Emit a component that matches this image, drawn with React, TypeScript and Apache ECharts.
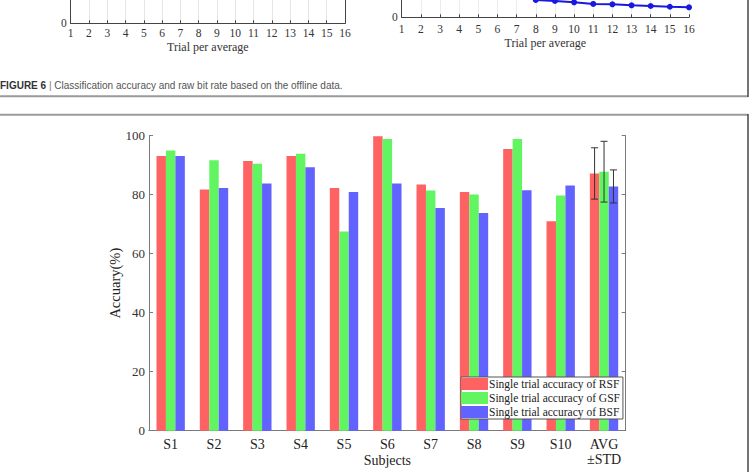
import React, { useEffect, useRef } from "react";
import * as echarts from "echarts";

// ---- Main figure data ----
const subjects = ["S1", "S2", "S3", "S4", "S5", "S6", "S7", "S8", "S9", "S10", "AVG\n±STD"];
const rsf = [93.1, 81.8, 91.4, 93.1, 82.3, 99.8, 83.5, 80.9, 95.5, 71.0, 87.2];
const gsf = [95.0, 91.7, 90.5, 93.9, 67.5, 98.9, 81.4, 80.1, 98.9, 79.7, 87.8];
const bsf = [93.1, 82.3, 83.8, 89.3, 80.9, 83.8, 75.5, 73.8, 81.5, 83.1, 82.8];
const avgStd = [8.7, 10.3, 5.6];
const seriesNames = [
  "Single trial accuracy of RSF",
  "Single trial accuracy of GSF",
  "Single trial accuracy of BSF",
];
const seriesColors = ["#ff6262", "#62f562", "#6262ff"];

// ---- Partial figure above (cropped) ----
const trialTicks = [1, 16];
const rateTrials = [8, 9, 10, 11, 12, 13, 14, 15, 16];
const rateBlue = [14.4, 13.6, 12.5, 11.1, 10.8, 10.0, 9.4, 8.8, 8.3];
const rateGreenTrials = [7, 8];
const rateGreen = [22, 14.4];

const SERIF = "'Liberation Serif', 'Times New Roman', serif";
const AXIS_GRAY = "#7a7a7a";

export default function App() {
  const ref = useRef<HTMLDivElement>(null);

  useEffect(() => {
    if (!ref.current) return;
    const chart = echarts.init(ref.current, undefined, { renderer: "svg" });
    const last = subjects.length - 1;
    const means = [rsf[last], gsf[last], bsf[last]];
    const errData = means.map((m, k) => [last, m, avgStd[k], k]);

    const option: any = {
      animation: false,
      backgroundColor: "#ffffff",
      grid: [
        { left: 149, right: 123.3, top: 135.7, bottom: 41.3, containLabel: false, outerBoundsMode: "none" },
        { left: 70.7, top: 0, width: 274.3, height: 23.3, containLabel: false, outerBoundsMode: "none" },
        { left: 401.7, top: 0, width: 287.3, height: 17.3, containLabel: false, outerBoundsMode: "none" },
      ],
      legend: {
        data: seriesNames,
        orient: "vertical",
        left: 461,
        top: 377,
        itemWidth: 27,
        itemHeight: 12,
        itemGap: 2,
        padding: [1, 3, 1, 0],
        icon: "rect",
        backgroundColor: "#ffffff",
        borderColor: "#555555",
        borderWidth: 1,
        borderRadius: 0,
        textStyle: { fontFamily: SERIF, fontSize: 11.5, color: "#222", lineHeight: 12, padding: [0, 0, 0, -4] },
        z: 10,
      },
      xAxis: [
        {
          gridIndex: 0,
          type: "category",
          data: subjects,
          position: "bottom",
          axisLine: { lineStyle: { color: AXIS_GRAY, width: 1 } },
          axisTick: { alignWithLabel: true, inside: true, length: 4, lineStyle: { color: AXIS_GRAY } },
          axisLabel: { interval: 0, fontFamily: SERIF, fontSize: 14, color: "#222", margin: 6, lineHeight: 15.5 },
          name: "Subjects",
          nameLocation: "middle",
          nameGap: 23,
          nameMoveOverlap: false,
          nameTextStyle: { fontFamily: SERIF, fontSize: 14, color: "#222" },
        },
        {
          gridIndex: 0,
          type: "category",
          data: subjects,
          position: "top",
          axisLine: { lineStyle: { color: AXIS_GRAY, width: 1 } },
          axisTick: { interval: 0, alignWithLabel: true, inside: true, length: 4, lineStyle: { color: AXIS_GRAY } },
          axisLabel: { show: false, interval: 0 },
        },
        {
          gridIndex: 1,
          type: "value",
          min: trialTicks[0],
          max: trialTicks[1],
          interval: 1,
          axisLine: { lineStyle: { color: "#444", width: 1 } },
          axisTick: { inside: true, length: 3, lineStyle: { color: "#444" } },
          axisLabel: { fontFamily: SERIF, fontSize: 11.5, color: "#333", margin: 4 },
          splitLine: { show: true, lineStyle: { color: "#e6e6e6" } },
          name: "Trial per average",
          nameLocation: "middle",
          nameGap: 18,
          nameMoveOverlap: false,
          nameTextStyle: { fontFamily: SERIF, fontSize: 12, color: "#333" },
        },
        {
          gridIndex: 2,
          type: "value",
          min: trialTicks[0],
          max: trialTicks[1],
          interval: 1,
          axisLine: { lineStyle: { color: "#444", width: 1 } },
          axisTick: { inside: true, length: 3, lineStyle: { color: "#444" } },
          axisLabel: { fontFamily: SERIF, fontSize: 11.5, color: "#333", margin: 6 },
          splitLine: { show: true, lineStyle: { color: "#ececec" } },
          name: "Trial per average",
          nameLocation: "middle",
          nameGap: 20,
          nameMoveOverlap: false,
          nameTextStyle: { fontFamily: SERIF, fontSize: 12, color: "#333" },
        },
      ],
      yAxis: [
        {
          gridIndex: 0,
          type: "value",
          min: 0,
          max: 100,
          interval: 20,
          axisLine: { show: true, lineStyle: { color: AXIS_GRAY, width: 1 } },
          axisTick: { show: true, inside: true, length: 4, lineStyle: { color: AXIS_GRAY } },
          axisLabel: { fontFamily: SERIF, fontSize: 13, color: "#333", margin: 4 },
          splitLine: { show: false },
          name: "Accuary(%)",
          nameLocation: "middle",
          nameGap: 27,
          nameRotate: 90,
          nameMoveOverlap: false,
          nameTextStyle: { fontFamily: SERIF, fontSize: 14.5, color: "#222" },
        },
        {
          gridIndex: 0,
          type: "value",
          position: "right",
          min: 0,
          max: 100,
          interval: 20,
          axisLine: { show: true, lineStyle: { color: AXIS_GRAY, width: 1 } },
          axisTick: { show: true, inside: true, length: 4, lineStyle: { color: AXIS_GRAY } },
          axisLabel: { show: false },
          splitLine: { show: false },
        },
        {
          gridIndex: 1,
          type: "value",
          min: 0,
          max: 10,
          interval: 10,
          axisLine: { show: true, lineStyle: { color: "#444", width: 1 } },
          axisTick: { show: false },
          axisLabel: { fontFamily: SERIF, fontSize: 11.5, color: "#333", margin: 4, showMaxLabel: false },
          splitLine: { show: false },
        },
        {
          gridIndex: 1,
          type: "value",
          position: "right",
          min: 0,
          max: 10,
          interval: 10,
          axisLine: { show: true, lineStyle: { color: "#444", width: 1 } },
          axisTick: { show: false },
          axisLabel: { show: false },
          splitLine: { show: false },
        },
        {
          gridIndex: 2,
          type: "value",
          min: 0,
          max: 14.4,
          interval: 20,
          axisLine: { show: true, lineStyle: { color: "#444", width: 1 } },
          axisTick: { show: false },
          axisLabel: { fontFamily: SERIF, fontSize: 11.5, color: "#333", margin: 4, showMaxLabel: false },
          splitLine: { show: false },
        },
      ],
      series: [
        ...seriesNames.map((name, i) => ({
          name,
          type: "bar",
          xAxisIndex: 0,
          yAxisIndex: 0,
          data: [rsf, gsf, bsf][i],
          itemStyle: { color: seriesColors[i] },
          barGap: "0%",
          barCategoryGap: "34.6%",
        })),
        {
          type: "custom",
          xAxisIndex: 0,
          yAxisIndex: 0,
          z: 5,
          encode: { x: 0, y: 1 },
          data: errData,
          renderItem: (params: any, api: any) => {
            const ci = api.value(0);
            const mean = api.value(1);
            const sd = api.value(2);
            const k = api.value(3);
            const band = api.size([1, 0])[0];
            const bw = (band * (1 - 0.346)) / 3;
            const c = api.coord([ci, mean]);
            const x = c[0] + (k - 1) * bw;
            const top = api.coord([ci, mean + sd])[1];
            const bot = api.coord([ci, mean - sd])[1];
            const cap = 3.5;
            const style = { stroke: "#333", lineWidth: 1 };
            return {
              type: "group",
              children: [
                { type: "line", shape: { x1: x, y1: top, x2: x, y2: bot }, style },
                { type: "line", shape: { x1: x - cap, y1: top, x2: x + cap, y2: top }, style },
                { type: "line", shape: { x1: x - cap, y1: bot, x2: x + cap, y2: bot }, style },
              ],
            };
          },
        },
        {
          type: "line",
          xAxisIndex: 3,
          yAxisIndex: 4,
          data: rateGreenTrials.map((t, i) => [t, rateGreen[i]]),
          symbol: "diamond",
          symbolSize: 6,
          lineStyle: { color: "#00a060", width: 1.5 },
          itemStyle: { color: "#00a060" },
          clip: true,
        },
        {
          type: "line",
          xAxisIndex: 3,
          yAxisIndex: 4,
          data: rateTrials.map((t, i) => [t, rateBlue[i]]),
          symbol: "circle",
          symbolSize: 6,
          lineStyle: { color: "#1818e0", width: 2 },
          itemStyle: { color: "#1818e0" },
          clip: true,
        },
      ],
      graphic: [
        {
          type: "text",
          x: 0,
          y: 85,
          style: {
            text: "{b|FIGURE 6} {s||} Classification accuracy and raw bit rate based on the offline data.",
            fontFamily: "'Liberation Sans', Arial, sans-serif",
            fontSize: 10,
            fill: "#555",
            verticalAlign: "middle",
            rich: {
              b: { fontFamily: "'Liberation Sans', Arial, sans-serif", fontSize: 10, fontWeight: "bold", fill: "#333" },
              s: { fontFamily: "'Liberation Sans', Arial, sans-serif", fontSize: 10, fill: "#777" },
            },
          },
        },
        { type: "line", shape: { x1: 0, y1: 96.3, x2: 748, y2: 96.3 }, style: { stroke: "#9a9a9a", lineWidth: 2 } },
        { type: "line", shape: { x1: 748, y1: 0, x2: 748, y2: 97 }, style: { stroke: "#444", lineWidth: 1.5 } },
        { type: "line", shape: { x1: 0, y1: 114.7, x2: 748, y2: 114.7 }, style: { stroke: "#9a9a9a", lineWidth: 2 } },
        { type: "line", shape: { x1: 748, y1: 114, x2: 748, y2: 472 }, style: { stroke: "#444", lineWidth: 1.5 } },
      ],
    };

    chart.setOption(option);
    return () => chart.dispose();
  }, []);

  return (
    <div
      ref={ref}
      style={{ position: "absolute", left: 0, top: 0, width: 749, height: 472 }}
    />
  );
}
